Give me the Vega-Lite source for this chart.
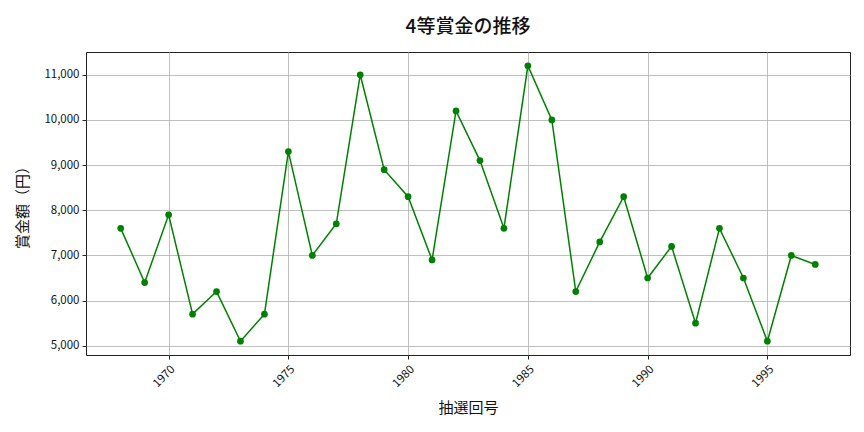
{
  "$schema": "https://vega.github.io/schema/vega-lite/v6.json",
  "autosize": "none",
  "width": 764,
  "height": 303,
  "padding": {"left": 86, "top": 52, "right": 14, "bottom": 77},
  "background": "white",
  "config": {
    "font": "Noto Sans CJK JP",
    "view": {"stroke": "#222222", "strokeWidth": 1}
  },
  "title": {
    "text": "4等賞金の推移",
    "fontSize": 19,
    "fontWeight": 500,
    "anchor": "middle",
    "offset": 15,
    "color": "#111111"
  },
  "data": {
    "values": [
      {"year": 1968, "prize": 7600},
      {"year": 1969, "prize": 6400},
      {"year": 1970, "prize": 7900},
      {"year": 1971, "prize": 5700},
      {"year": 1972, "prize": 6200},
      {"year": 1973, "prize": 5100},
      {"year": 1974, "prize": 5700},
      {"year": 1975, "prize": 9300},
      {"year": 1976, "prize": 7000},
      {"year": 1977, "prize": 7700},
      {"year": 1978, "prize": 11000},
      {"year": 1979, "prize": 8900},
      {"year": 1980, "prize": 8300},
      {"year": 1981, "prize": 6900},
      {"year": 1982, "prize": 10200},
      {"year": 1983, "prize": 9100},
      {"year": 1984, "prize": 7600},
      {"year": 1985, "prize": 11200},
      {"year": 1986, "prize": 10000},
      {"year": 1987, "prize": 6200},
      {"year": 1988, "prize": 7300},
      {"year": 1989, "prize": 8300},
      {"year": 1990, "prize": 6500},
      {"year": 1991, "prize": 7200},
      {"year": 1992, "prize": 5500},
      {"year": 1993, "prize": 7600},
      {"year": 1994, "prize": 6500},
      {"year": 1995, "prize": 5100},
      {"year": 1996, "prize": 7000},
      {"year": 1997, "prize": 6800}
    ]
  },
  "encoding": {
    "x": {
      "field": "year",
      "type": "quantitative",
      "scale": {"domain": [1966.55, 1998.45], "nice": false, "zero": false},
      "axis": {
        "title": "抽選回号",
        "values": [1970, 1975, 1980, 1985, 1990, 1995],
        "format": "d",
        "labelAngle": -45,
        "labelAlign": "right",
        "labelBaseline": "top",
        "labelFontSize": 11.5,
        "labelColor": "#111111",
        "labelPadding": 4,
        "tickColor": "#222222",
        "tickSize": 4,
        "domain": false,
        "grid": true,
        "gridColor": "#b0b0b0",
        "gridWidth": 0.8,
        "titleFontSize": 15,
        "titleFontWeight": "normal",
        "titleColor": "#111111",
        "titlePadding": 11
      }
    },
    "y": {
      "field": "prize",
      "type": "quantitative",
      "scale": {"domain": [4795, 11505], "nice": false, "zero": false},
      "axis": {
        "title": "賞金額（円）",
        "values": [5000, 6000, 7000, 8000, 9000, 10000, 11000],
        "format": ",d",
        "labelFontSize": 11.5,
        "labelColor": "#111111",
        "labelPadding": 3,
        "tickColor": "#222222",
        "tickSize": 4,
        "domain": false,
        "grid": true,
        "gridColor": "#b0b0b0",
        "gridWidth": 0.8,
        "titleFontSize": 15,
        "titleFontWeight": "normal",
        "titleColor": "#111111",
        "titlePadding": 13
      }
    }
  },
  "layer": [
    {"mark": {"type": "line", "color": "#008000", "strokeWidth": 1.5}},
    {"mark": {"type": "point", "filled": true, "color": "#008000", "opacity": 1, "size": 45}}
  ]
}
